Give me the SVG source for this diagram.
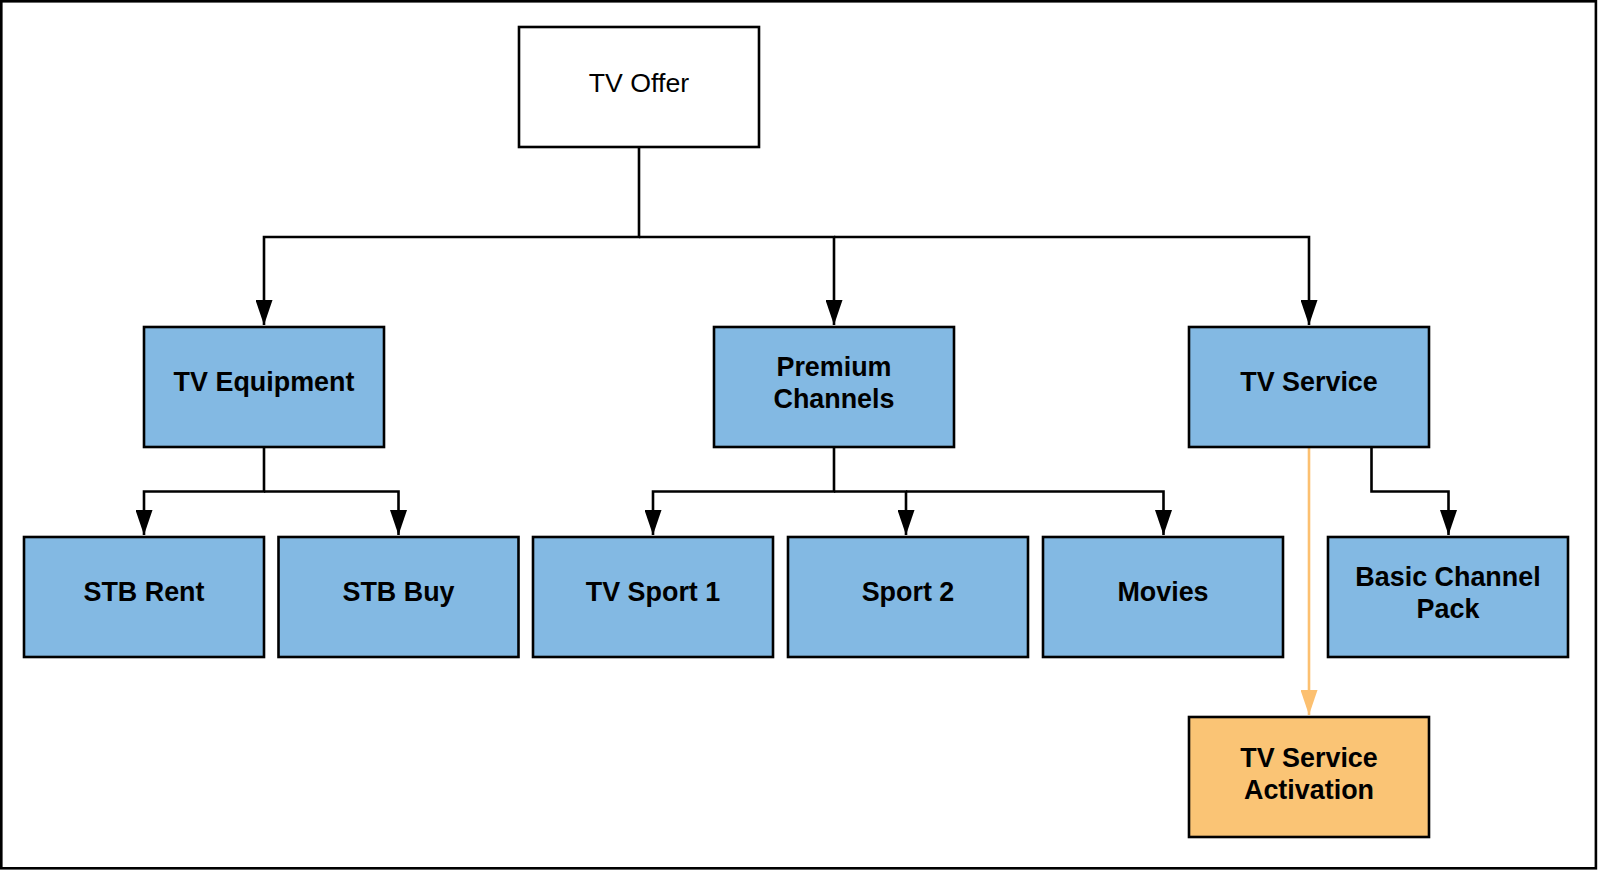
<svg xmlns="http://www.w3.org/2000/svg" width="1598" height="870" viewBox="0 0 1598 870">
<style>
.box{stroke:#000;stroke-width:2.6;}
.blue{fill:#83b9e3;}
.orange{fill:#fac475;}
.white{fill:#fff;}
.lbl{font-family:"Liberation Sans",Arial,sans-serif;font-size:26.9px;font-weight:bold;fill:#000;text-anchor:middle;}
.reg{font-family:"Liberation Sans",Arial,sans-serif;font-size:26.7px;fill:#000;text-anchor:middle;}
.conn{fill:none;stroke:#000;stroke-width:2.6;}
.conn-o{fill:none;stroke:#fcc070;stroke-width:2.6;}
</style>
<defs>
<marker id="ah" markerUnits="userSpaceOnUse" viewBox="0 0 25 17" markerWidth="25" markerHeight="17" refX="25" refY="8.5" orient="auto">
<path d="M0,0 L25,8.5 L0,17 Z" fill="#000"/>
</marker>
<marker id="aho" markerUnits="userSpaceOnUse" viewBox="0 0 25 17" markerWidth="25" markerHeight="17" refX="25" refY="8.5" orient="auto">
<path d="M0,0 L25,8.5 L0,17 Z" fill="#fcc070"/>
</marker>
</defs>
<rect x="0" y="0" width="1598" height="870" fill="#fff"/>
<rect x="1.3" y="1.3" width="1594.6" height="867" fill="none" stroke="#000" stroke-width="2.6"/>

<g id="connectors">
<path class="conn" d="M639,147 V237 H264 V325" marker-end="url(#ah)"/>
<path class="conn" d="M639,237 H834 V325" marker-end="url(#ah)"/>
<path class="conn" d="M834,237 H1309 V325" marker-end="url(#ah)"/>
<path class="conn" d="M264,447 V491.5 H144 V535" marker-end="url(#ah)"/>
<path class="conn" d="M264,491.5 H398.5 V535" marker-end="url(#ah)"/>
<path class="conn" d="M834,447 V491.5 H653 V535" marker-end="url(#ah)"/>
<path class="conn" d="M834,491.5 H906 V535" marker-end="url(#ah)"/>
<path class="conn" d="M906,491.5 H1163.5 V535" marker-end="url(#ah)"/>
<path class="conn" d="M1371.5,447 V491.5 H1448.5 V535" marker-end="url(#ah)"/>
<path class="conn-o" d="M1309,447 V715" marker-end="url(#aho)"/>
</g>

<g id="tv-offer">
<rect class="box white" x="519" y="27" width="240" height="120"/>
<text class="reg" x="639" y="92">TV Offer</text>
</g>
<g id="tv-equipment">
<rect class="box blue" x="144" y="327" width="240" height="120"/>
<text class="lbl" x="264" y="391">TV Equipment</text>
</g>
<g id="premium-channels">
<rect class="box blue" x="714" y="327" width="240" height="120"/>
<text class="lbl" x="834" y="376">Premium</text>
<text class="lbl" x="834" y="408">Channels</text>
</g>
<g id="tv-service">
<rect class="box blue" x="1189" y="327" width="240" height="120"/>
<text class="lbl" x="1309" y="391">TV Service</text>
</g>
<g id="stb-rent">
<rect class="box blue" x="24" y="537" width="240" height="120"/>
<text class="lbl" x="144" y="601">STB Rent</text>
</g>
<g id="stb-buy">
<rect class="box blue" x="278.5" y="537" width="240" height="120"/>
<text class="lbl" x="398.5" y="601">STB Buy</text>
</g>
<g id="tv-sport-1">
<rect class="box blue" x="533" y="537" width="240" height="120"/>
<text class="lbl" x="653" y="601">TV Sport 1</text>
</g>
<g id="sport-2">
<rect class="box blue" x="788" y="537" width="240" height="120"/>
<text class="lbl" x="908" y="601">Sport 2</text>
</g>
<g id="movies">
<rect class="box blue" x="1043" y="537" width="240" height="120"/>
<text class="lbl" x="1163" y="601">Movies</text>
</g>
<g id="basic-channel-pack">
<rect class="box blue" x="1328" y="537" width="240" height="120"/>
<text class="lbl" x="1448" y="586">Basic Channel</text>
<text class="lbl" x="1448" y="618">Pack</text>
</g>
<g id="tv-service-activation">
<rect class="box orange" x="1189" y="717" width="240" height="120"/>
<text class="lbl" x="1309" y="767">TV Service</text>
<text class="lbl" x="1309" y="799">Activation</text>
</g>
</svg>
